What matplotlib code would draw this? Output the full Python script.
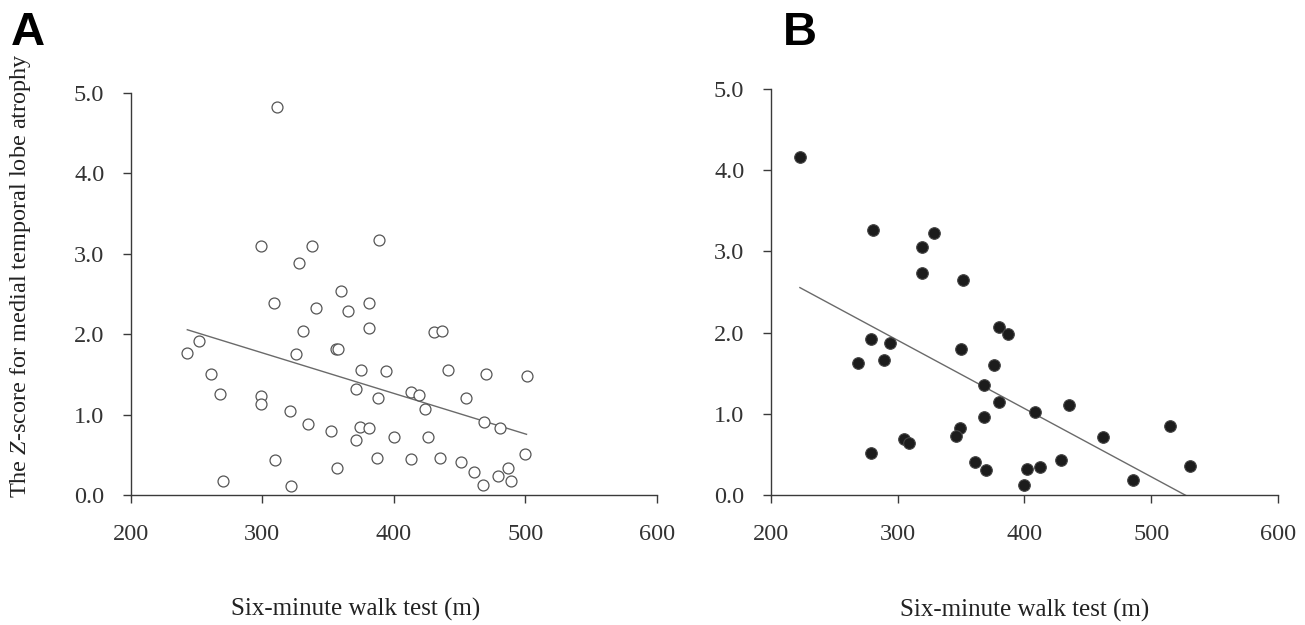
import numpy as np
import matplotlib
matplotlib.use('Agg')
import matplotlib.pyplot as plt

plt.rcParams['font.family'] = ['Liberation Serif', 'DejaVu Serif']
plt.rcParams['mathtext.fontset'] = 'custom'
plt.rcParams['mathtext.it'] = 'Liberation Serif:italic'
plt.rcParams['mathtext.rm'] = 'Liberation Serif'

# panel A: open circles
walk_a = [311, 299, 338, 389, 328, 360, 309, 341, 365, 381,
          331, 381, 431, 437, 243, 252, 326, 356, 358, 375,
          394, 441, 470, 501, 261, 268, 371, 299, 299, 388,
          413, 419, 424, 455, 321, 469, 481, 335, 352, 374,
          381, 371, 400, 426, 500, 310, 357, 387, 413, 435,
          451, 461, 479, 487, 489, 468, 270, 322]
z_a = [4.82, 3.10, 3.10, 3.17, 2.88, 2.53, 2.39, 2.33, 2.29, 2.39,
       2.04, 2.07, 2.02, 2.04, 1.77, 1.92, 1.75, 1.81, 1.82, 1.55,
       1.54, 1.55, 1.50, 1.48, 1.50, 1.25, 1.32, 1.23, 1.13, 1.21,
       1.28, 1.24, 1.07, 1.21, 1.05, 0.91, 0.83, 0.88, 0.79, 0.84,
       0.83, 0.68, 0.72, 0.72, 0.51, 0.43, 0.34, 0.46, 0.45, 0.46,
       0.41, 0.28, 0.24, 0.33, 0.17, 0.13, 0.17, 0.11]

# panel B: filled circles
walk_b = [223, 281, 329, 319, 319, 352, 380, 387, 279, 294,
          269, 289, 350, 376, 368, 380, 408, 435, 368, 349,
          346, 305, 309, 462, 515, 279, 361, 370, 402, 412,
          429, 400, 486, 531]
z_b = [4.16, 3.26, 3.23, 3.05, 2.74, 2.65, 2.07, 1.98, 1.92, 1.87,
       1.63, 1.66, 1.80, 1.60, 1.35, 1.15, 1.02, 1.11, 0.96, 0.82,
       0.73, 0.69, 0.64, 0.71, 0.85, 0.52, 0.41, 0.31, 0.32, 0.34,
       0.43, 0.12, 0.18, 0.36]

x_ticks = [200, 300, 400, 500, 600]
y_ticks = [0, 1, 2, 3, 4, 5]

fig = plt.figure(figsize=(13.05, 6.25), dpi=100)
ax_a = fig.add_axes([0.1002, 0.208, 0.403, 0.6437])
ax_b = fig.add_axes([0.5906, 0.208, 0.3887, 0.6496])

axis_col = '#3a3a3a'
for ax, xs, ys, filled in [(ax_a, walk_a, z_a, False), (ax_b, walk_b, z_b, True)]:
    if filled:
        ax.scatter(xs, ys, s=70, facecolor='#1c1c1c', edgecolor='#444444',
                   linewidth=0.8, clip_on=False, zorder=3)
    else:
        ax.scatter(xs, ys, s=62, facecolor='white', edgecolor='#555555',
                   linewidth=0.9, clip_on=False, zorder=3)
    # least squares line over the data range
    k, b = np.polyfit(xs, ys, 1)
    xx = np.array([min(xs), max(xs)])
    ax.plot(xx, k * xx + b, color='#6a6a6a', lw=1.0, zorder=2)

    ax.set_xlim(200, 600)
    ax.set_ylim(0, 5)
    ax.set_xticks(x_ticks)
    ax.set_yticks(y_ticks)
    ax.set_yticklabels([f'{v:.1f}' for v in y_ticks])
    for s in ['top', 'right']:
        ax.spines[s].set_visible(False)
    for s in ['left', 'bottom']:
        ax.spines[s].set_color(axis_col)
        ax.spines[s].set_linewidth(1.0)
    ax.tick_params(axis='both', direction='out', length=6, width=1.0,
                   color=axis_col, labelsize=17.5, labelcolor='#333333')
    ax.tick_params(axis='y', pad=13)
    ax.tick_params(axis='x', pad=15)
    ax.set_xlabel('Six-minute walk test (m)', fontsize=18, color='#222222')

ax_a.xaxis.set_label_coords(0.428, -0.255)
ax_b.xaxis.set_label_coords(0.50, -0.255)

ax_a.set_ylabel(r'The $Z$-score for medial temporal lobe atrophy', fontsize=17.5, color='#222222')
ax_a.yaxis.set_label_coords(-0.186, 0.545)

fig.text(0.008, 0.982, 'A', fontsize=34, fontweight='bold', family='Liberation Sans', va='top')
fig.text(0.600, 0.982, 'B', fontsize=34, fontweight='bold', family='Liberation Sans', va='top')

fig.savefig('out.png', dpi=100)
